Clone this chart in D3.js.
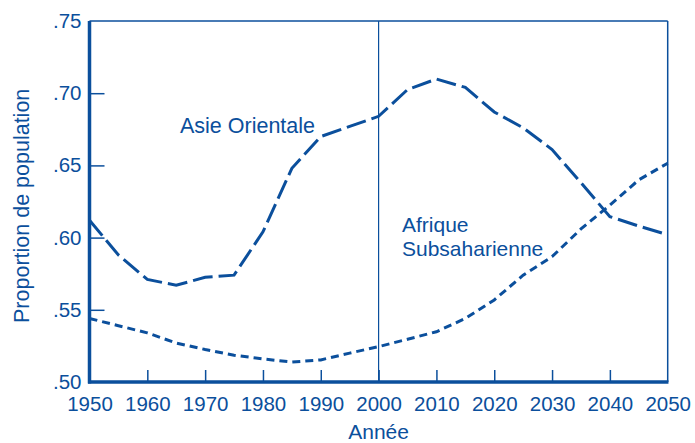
<!DOCTYPE html>
<html>
<head>
<meta charset="utf-8">
<script src="https://cdn.jsdelivr.net/npm/d3@7"></script>
<style>
  body { margin: 0; background: #fff; }
  svg text { font-family: "Liberation Sans", Arial, sans-serif; fill: #0b4f9c; }
</style>
</head>
<body>
<svg width="695" height="443"></svg>
<script>
// data
var years = [1950, 1955, 1960, 1965, 1970, 1975, 1980, 1985, 1990, 1995, 2000,
             2005, 2010, 2015, 2020, 2025, 2030, 2035, 2040, 2045, 2050];
var asie = [0.612, 0.588, 0.571, 0.567, 0.5725, 0.574, 0.604, 0.648, 0.670, 0.677, 0.684,
            0.7025, 0.7098, 0.704, 0.687, 0.676, 0.661, 0.638, 0.6145, 0.608, 0.602];
var afrique = [0.544, 0.539, 0.534, 0.527, 0.5225, 0.5185, 0.516, 0.5138, 0.5153, 0.520, 0.5245,
               0.5296, 0.5348, 0.544, 0.5568, 0.574, 0.5868, 0.606, 0.6225, 0.640, 0.6515];
var xTicks = [1950, 1960, 1970, 1980, 1990, 2000, 2010, 2020, 2030, 2040, 2050];
var yTicks = [0.50, 0.55, 0.60, 0.65, 0.70, 0.75];

var blue = "#0b4f9c";
var svg = d3.select("svg");

var x = d3.scaleLinear().domain([1950, 2050]).range([89.5, 667.7]);
var y = d3.scaleLinear().domain([0.50, 0.75]).range([382, 21]);

// frame: thin top/right
svg.append("line").attr("x1", x(1950)).attr("x2", x(2050)).attr("y1", y(0.75)).attr("y2", y(0.75))
  .attr("stroke", blue).attr("stroke-width", 1.5);
svg.append("line").attr("x1", x(2050)).attr("x2", x(2050)).attr("y1", y(0.75)).attr("y2", y(0.50))
  .attr("stroke", blue).attr("stroke-width", 1.5);
// 2000 marker
svg.append("line").attr("x1", x(2000)).attr("x2", x(2000)).attr("y1", y(0.75)).attr("y2", y(0.50))
  .attr("stroke", blue).attr("stroke-width", 1.2);

var fmt = function(d) { return d3.format(".2f")(d).replace(/^0/, ""); };

var yAxis = svg.append("g").attr("transform", "translate(" + x(1950) + ",0)")
  .call(d3.axisLeft(y).tickValues(yTicks).tickFormat(fmt).tickSize(-15).tickPadding(8));
var xAxis = svg.append("g").attr("transform", "translate(0," + y(0.50) + ")")
  .call(d3.axisBottom(x).tickValues(xTicks).tickFormat(d3.format("d")).tickSize(-12).tickPadding(14));

[yAxis, xAxis].forEach(function(a) {
  a.select(".domain").remove();
  a.selectAll(".tick line").attr("stroke", blue).attr("stroke-width", 1.5);
  a.selectAll(".tick text").style("font-size", "20.5px").attr("fill", blue);
});
xAxis.selectAll(".tick").filter(function(d) { return d == 1950 || d == 2050; }).select("line").remove();
yAxis.selectAll(".tick").filter(function(d) { return d == 0.50 || d == 0.75; }).select("line").remove();

// thick left and bottom axes
svg.append("line").attr("x1", x(1950)).attr("x2", x(1950)).attr("y1", y(0.75)).attr("y2", y(0.50) + 1.5)
  .attr("stroke", blue).attr("stroke-width", 3.5);
svg.append("line").attr("x1", x(1950) - 1.5).attr("x2", x(2050) + 0.75).attr("y1", y(0.50)).attr("y2", y(0.50))
  .attr("stroke", blue).attr("stroke-width", 3.5);

var line = d3.line().x(function(d) { return x(d[0]); }).y(function(d) { return y(d[1]); });

svg.append("path").datum(d3.zip(years, asie)).attr("d", line)
  .attr("fill", "none").attr("stroke", blue).attr("stroke-width", 3)
  .attr("stroke-dasharray", "20,6");
svg.append("path").datum(d3.zip(years, afrique)).attr("d", line)
  .attr("fill", "none").attr("stroke", blue).attr("stroke-width", 3)
  .attr("stroke-dasharray", "8,5");

// labels
svg.append("text").attr("x", 180).attr("y", 133).style("font-size", "21.5px").text("Asie Orientale");
svg.append("text").attr("x", 402).attr("y", 232).style("font-size", "21px").text("Afrique");
svg.append("text").attr("x", 402).attr("y", 256).style("font-size", "21px").text("Subsaharienne");

svg.append("text").attr("text-anchor", "middle").attr("x", x(2000)).attr("y", 439)
  .style("font-size", "21px").text("Année");
svg.append("text").attr("text-anchor", "middle")
  .attr("transform", "translate(29," + y(0.622) + ") rotate(-90)")
  .style("font-size", "21.5px").text("Proportion de population");
</script>
</body>
</html>
